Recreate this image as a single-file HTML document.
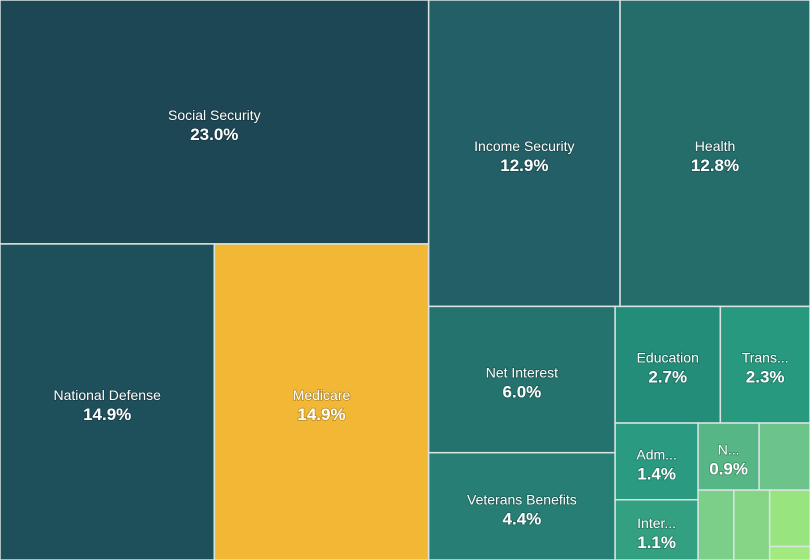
<!DOCTYPE html>
<html><head><meta charset="utf-8">
<style>
html,body{margin:0;padding:0;background:#fff;}
svg{display:block;}
text{font-family:"Liberation Sans",sans-serif;fill:#fff;text-anchor:middle;paint-order:stroke;stroke:rgba(0,0,0,0.25);stroke-width:1.5px;}
</style></head>
<body>
<svg id="chart" width="810" height="560"></svg>
<script>
const categories = ["Social Security","National Defense","Medicare","Income Security","Health","Net Interest","Veterans Benefits","Education","Transportation","Administration of Justice","International Affairs","Natural Resources","Community Development","Agriculture","Energy","Commerce","General Government"];
const values = [23.0,14.9,14.9,12.9,12.8,6.0,4.4,2.7,2.3,1.4,1.1,0.9,0.75,0.55,0.55,0.5,0.12];
const colors = ["#1d4755","#1e505c","#f2b835","#225f66","#246d6b","#25736e","#277e75","#238d79","#26997f","#2a9a80","#33a081","#57b686","#6cc48a","#7ccf88","#86d586","#98e57f","#a2ea7d"];
const W=810,H=560;
const svg=document.getElementById('chart');
const NS="http://www.w3.org/2000/svg";
const sums=[0];values.forEach((v,i)=>sums.push(sums[i]+v));
const rects=[];
function partition(i,j,value,x0,y0,x1,y1){
  if(i>=j-1){rects[i]={x0,y0,x1,y1};return;}
  const off=sums[i],target=value/2+off;let k=i+1,hi=j-1;
  while(k<hi){const mid=(k+hi)>>>1;if(sums[mid]<target)k=mid+1;else hi=mid;}
  if((target-sums[k-1])<(sums[k]-target)&&i+1<k)--k;
  const vl=sums[k]-off,vr=value-vl;
  if((x1-x0)>(y1-y0)){const xk=(x0*vr+x1*vl)/value;partition(i,k,vl,x0,y0,xk,y1);partition(k,j,vr,xk,y0,x1,y1);}
  else{const yk=(y0*vr+y1*vl)/value;partition(i,k,vl,x0,y0,x1,yk);partition(k,j,vr,x0,yk,x1,y1);}
}
partition(0,values.length,sums[values.length],0,0,W,H);
const cv=document.createElement('canvas').getContext('2d');
cv.font='14px "Liberation Sans"';
function fit(s,w){if(cv.measureText(s).width<=w)return s;let t=s;while(t.length>1&&cv.measureText(t+'...').width>w)t=t.slice(0,-1);return t+'...';}
values.forEach((v,i)=>{
  const r=rects[i];
  const g=document.createElementNS(NS,'g');
  
  
  const rc=document.createElementNS(NS,'rect');
  rc.setAttribute('x',r.x0);rc.setAttribute('y',r.y0);
  rc.setAttribute('width',r.x1-r.x0);rc.setAttribute('height',r.y1-r.y0);
  rc.setAttribute('fill',colors[i]);rc.setAttribute('stroke','#d8e4e2');rc.setAttribute('stroke-width','1.5');
  
  
  g.appendChild(rc);
  const w=r.x1-r.x0,h=r.y1-r.y0;
  if(w>56&&h>50){
    const cx=(r.x0+r.x1)/2,cy=(r.y0+r.y1)/2;
    const t1=document.createElementNS(NS,'text');
    t1.setAttribute('x',cx);t1.setAttribute('y',cy-2);t1.setAttribute('font-size','14');
    t1.textContent=fit(categories[i],w-42);
    
    
    g.appendChild(t1);
    const t2=document.createElementNS(NS,'text');
    t2.setAttribute('x',cx);t2.setAttribute('y',cy+18);t2.setAttribute('font-size','17');t2.setAttribute('font-weight','bold');
    t2.textContent=v.toFixed(1)+'%';
    
    
    g.appendChild(t2);
  }
  svg.appendChild(g);
});
</script>
</body></html>
